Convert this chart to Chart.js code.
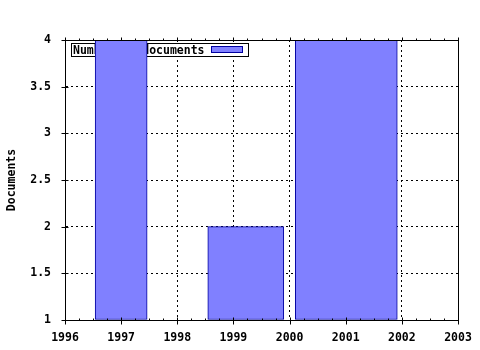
<!DOCTYPE html>
<html><head><meta charset="utf-8">
<script src="https://cdn.jsdelivr.net/npm/chart.js@4/dist/chart.umd.min.js"></script>
<style>html,body{margin:0;padding:0;background:#fff;}</style>
</head><body>
<canvas id="c" width="480" height="350"></canvas>
<script>
// ---- data ----
const seriesLabel = 'Number of documents';
const yTitle = 'Documents';
const barYears = [1997, 1999.22, 2001.01];   // bar centres (years)
const documents = [4, 2, 4];
const xTickValues = [1996, 1997, 1998, 1999, 2000, 2001, 2002, 2003];
const yTickValues = [1, 1.5, 2, 2.5, 3, 3.5, 4];
const yTickLabels = ['1', '1.5', '2', '2.5', '3', '3.5', '4'];

// ---- styles ----
const barPx = [52, 76, 102];
const FILL = '#8080ff', EDGE = '#0000a0';
const FONT = {family: '"DejaVu Sans Mono", monospace', size: 11.5, weight: 'bold'};
const FONTSTR = 'bold 11.5px "DejaVu Sans Mono", monospace';

const datasets = barYears.map((yr, i) => ({
  label: seriesLabel,
  data: [{x: yr, y: documents[i]}],
  base: 1,
  backgroundColor: FILL,
  borderColor: EDGE,
  borderWidth: 1,
  borderSkipped: false,
  barThickness: barPx[i],
  grouped: false
}));

const frameAndTicks = {
  id: 'frameAndTicks',
  beforeDatasetsDraw(chart) {
    const ctx = chart.ctx, a = chart.chartArea;
    const lx = Math.round(a.left) + 6.5, ly = Math.round(a.top) + 3.5;
    ctx.save();
    ctx.fillStyle = '#fff';
    ctx.fillRect(lx, ly, 177, 13);
    ctx.strokeStyle = '#000'; ctx.lineWidth = 1;
    ctx.strokeRect(lx, ly, 177, 13);
    ctx.fillStyle = '#000'; ctx.font = FONTSTR; ctx.textBaseline = 'alphabetic';
    ctx.fillText(seriesLabel, lx + 1.5, ly + 10.5);
    ctx.fillStyle = FILL; ctx.fillRect(lx + 140, ly + 3, 31, 6);
    ctx.strokeStyle = EDGE; ctx.strokeRect(lx + 140, ly + 3, 31, 6);
    ctx.restore();
  },
  afterDraw(chart) {
    const ctx = chart.ctx, a = chart.chartArea, xs = chart.scales.x, ys = chart.scales.y;
    const L = Math.round(a.left) + 0.5, R = Math.round(a.right) + 0.5;
    const T = Math.round(a.top) + 0.5, B = Math.round(a.bottom) + 0.5;
    ctx.save();
    ctx.strokeStyle = '#000'; ctx.lineWidth = 1; ctx.setLineDash([]);
    ctx.strokeRect(L, T, R - L, B - T);
    ctx.beginPath();
    for (let q = xs.min * 4; q <= xs.max * 4; q++) {
      const v = q / 4, px = Math.round(xs.getPixelForValue(v)) + 0.5;
      const major = q % 4 === 0;
      if (major) { ctx.moveTo(px, B - 3); ctx.lineTo(px, B + 4); ctx.moveTo(px, T - 3); ctx.lineTo(px, T); }
      else { ctx.moveTo(px, B - 2); ctx.lineTo(px, B); ctx.moveTo(px, T - 2); ctx.lineTo(px, T); }
    }
    yTickValues.forEach(v => {
      const py = Math.round(ys.getPixelForValue(v)) + 0.5;
      ctx.moveTo(L - 4, py); ctx.lineTo(L + 3, py);
    });
    ctx.stroke();
    ctx.restore();
  }
};

new Chart(document.getElementById('c'), {
  type: 'bar',
  data: {datasets},
  options: {
    responsive: false,
    animation: false,
    layout: {padding: {left: 0, top: 40, right: 22, bottom: 0}},
    plugins: {legend: {display: false}, tooltip: {enabled: false}},
    scales: {
      x: {
        type: 'linear', min: 1996, max: 2003, offset: false,
        afterBuildTicks: s => { s.ticks = xTickValues.map(v => ({value: v})); },
        afterFit: s => { s.height = 30; s.paddingLeft = 0; s.paddingRight = 0; },
        grid: {color: '#000', lineWidth: 1, drawTicks: false, offset: false},
        border: {display: true, color: '#000', width: 1, dash: [2, 3]},
        ticks: {color: '#000', font: FONT, padding: 11, maxRotation: 0, autoSkip: false,
                callback: v => String(v)}
      },
      y: {
        type: 'linear', min: 1, max: 4,
        afterBuildTicks: s => { s.ticks = yTickValues.map(v => ({value: v})); },
        afterFit: s => { s.width = 65; s.paddingTop = 0; s.paddingBottom = 0; },
        grid: {color: '#000', lineWidth: 1, drawTicks: false},
        border: {display: true, color: '#000', width: 1, dash: [2, 3]},
        ticks: {color: '#000', font: FONT, padding: 14,
                callback: v => yTickLabels[yTickValues.indexOf(v)]},
        title: {display: true, text: yTitle, color: '#000', font: FONT, padding: 5}
      }
    }
  },
  plugins: [frameAndTicks]
});
</script>
</body></html>
